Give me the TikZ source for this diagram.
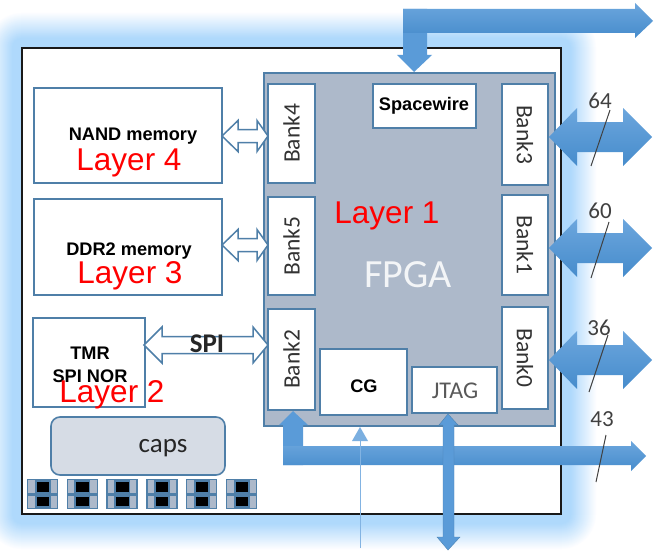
\documentclass[tikz,border=0pt]{standalone}
\usepackage{fontspec}
\setmainfont{Liberation Sans}
\newfontfamily\carl{Carlito}
\usetikzlibrary{calc}
\definecolor{edgeb}{HTML}{4F7FA8}
\definecolor{fpgag}{HTML}{ADB9CA}
\definecolor{glowb}{HTML}{AFD9FC}
\definecolor{capsg}{HTML}{D6DCE5}
\definecolor{arrtop}{HTML}{6CA6DD}
\definecolor{arrbot}{HTML}{468CCC}
\definecolor{stemb}{HTML}{5A9BD8}
\tikzset{
  every node/.style={outer sep=0pt},
  box/.style={draw=edgeb,line width=1.6pt,fill=white,inner sep=0pt,text=black},
  boldtxt/.style={font=\bfseries\fontsize{18.2}{20}\selectfont,text=black,inner sep=0pt},
  layertxt/.style={font=\fontsize{31.5}{34}\selectfont,text=red,inner sep=0pt},
  banktxt/.style={font=\carl\fontsize{23.5}{26}\selectfont,text=black!80,inner sep=0pt},
  numtxt/.style={font=\carl\fontsize{23}{25}\selectfont,text=black!75,inner sep=0pt},
  hollow/.style={draw=edgeb,line width=1.5pt,fill=white,line join=miter},
  solid/.style={top color=arrtop,bottom color=arrbot,draw=none},
  slash/.style={draw=black!75,line width=1pt},
}
\newcommand{\rbox}[5]{\node[box,anchor=north west,minimum width=#3-#1,minimum height=#4-#2] (#5) at (#1,#2) {};}
% horizontal double block arrow: x1 x1head x2head x2 ymid halfshaft halfhead
\newcommand{\hdbl}[8]{\path[#8] (#1,#5) -- (#2,#5-#7) -- (#2,#5-#6) -- (#3,#5-#6) -- (#3,#5-#7) -- (#4,#5) -- (#3,#5+#7) -- (#3,#5+#6) -- (#2,#5+#6) -- (#2,#5+#7) -- cycle;}
\begin{document}
\begin{tikzpicture}[x=1pt,y=-1pt]
\useasboundingbox (0,0) rectangle (656,551);
\fill[white] (0,0) rectangle (656,551);
% glow
\foreach \i in {0,...,26}{
  \pgfmathsetmacro{\off}{36-\i}
  \pgfmathsetmacro{\mix}{100*(\i/26)}
  \fill[glowb!\mix!white,rounded corners=\off pt] (22-\off,48-\off) rectangle (561+\off,514+\off);
}
% board
\node[draw=black!90,line width=2.2pt,fill=white,anchor=north west,minimum width=539pt,minimum height=466pt,inner sep=0pt] (board) at (22,48) {};
% FPGA
\node[draw=edgeb,line width=1.6pt,fill=fpgag,anchor=north west,minimum width=291pt,minimum height=353pt,inner sep=0pt] (fpga) at (264,73) {};
% memory
\rbox{34}{88}{222}{183}{nand}
\rbox{34}{199}{222}{295}{ddr}
\rbox{33}{318}{145}{407}{tmr}
\node[boldtxt] (nandt) at (133,136) {NAND memory};
\node[layertxt] (l4) at (129,163) {Layer 4};
\node[boldtxt] (ddrt) at (129,251) {DDR2 memory};
\node[layertxt] (l3) at (130,276) {Layer 3};
\node[boldtxt] (tmrt) at (90,353) {TMR};
\node[boldtxt] (spinor) at (90,376) {SPI NOR};
\node[layertxt] (l2) at (112,395) {Layer 2};
% caps
\node[draw=edgeb,line width=1.6pt,fill=capsg,rounded corners=9pt,anchor=north west,minimum width=174pt,minimum height=58pt,inner sep=0pt] (caps) at (51,417) {};
\node[font=\carl\fontsize{27}{29}\selectfont,text=black!85,inner sep=0pt] (capst) at (163,448) {caps};
% chips
\foreach \k in {0,...,5}{
  \pgfmathsetmacro{\cx}{27+39.8*\k}
  \begin{scope}[shift={(\cx,479)}]
    \node[draw=edgeb,line width=1.4pt,fill=fpgag,anchor=north west,minimum width=30pt,minimum height=29pt,inner sep=0pt] (chip\k) at (0.5,0.5) {};
    \fill[edgeb] (7.5,0.5) rectangle (23.5,29.5);
    \fill[edgeb] (0.5,13.5) rectangle (30.5,16.5);
    \fill[black] (9.5,3) rectangle (22,13);
    \fill[black] (9.5,17.5) rectangle (22,27);
  \end{scope}
}
% banks
\rbox{268}{84}{315}{183}{bankf}
\rbox{268}{197}{315}{295}{bankg}
\rbox{268}{309}{315}{410}{bankc}
\rbox{502}{84}{548}{185}{bankd}
\rbox{502}{195}{548}{295}{bankb}
\rbox{502}{307}{548}{409}{banka}
\rbox{373}{84}{476}{128}{spw}
\rbox{320}{349}{407}{415}{cg}
\rbox{412}{367}{497}{413}{jtag}
\node[banktxt,rotate=90] at (bankf) {Bank4};
\node[banktxt,rotate=90] at (bankg) {Bank5};
\node[banktxt,rotate=90] at (bankc) {Bank2};
\node[banktxt,rotate=-90] at (bankd) {Bank3};
\node[banktxt,rotate=-90] at (bankb) {Bank1};
\node[banktxt,rotate=-90] at (banka) {Bank0};
\node[boldtxt] at (424,106) {Spacewire};
\node[boldtxt] at (364,386) {CG};
\node[font=\carl\fontsize{24}{26}\selectfont,text=black!65,inner sep=0pt] at (455,391) {JTAG};
\node[layertxt] (l1) at (387,216) {Layer 1};
\node[font=\carl\fontsize{40}{42}\selectfont,text=white!85!fpgag,inner sep=0pt] (fpgat) at (408,275) {FPGA};
% hollow arrows
\hdbl{222}{238}{257}{268}{136}{6.5}{15.5}{hollow}
\hdbl{222}{238}{257}{268}{245}{6.5}{15.5}{hollow}
\hdbl{144}{162}{253}{268}{345}{8.5}{18}{hollow}
\node[font=\carl\bfseries\fontsize{27}{29}\selectfont,text=black!85,inner sep=0pt] (spi) at (207,344) {SPI};
% solid double arrows
\hdbl{549}{577}{623}{652}{137}{15}{29}{solid}
\hdbl{549}{577}{623}{652}{248}{15}{29}{solid}
\hdbl{549}{577}{623}{652}{360}{15}{29}{solid}
% top arrow
\fill[stemb] (403,9) -- (427,9) -- (427,55) -- (432,55) -- (414,72) -- (397,55) -- (403,55) -- cycle;
\path[solid] (403,9) -- (635,9) -- (635,3) -- (653,21) -- (635,38) -- (635,33) -- (403,33) -- cycle;
% bottom bus
\fill[stemb] (293,411) -- (308,425) -- (303,425) -- (303,465) -- (283,465) -- (283,425) -- (279,425) -- cycle;
\path[solid] (283,446) -- (631,446) -- (631,441) -- (646,456) -- (631,471) -- (631,465) -- (283,465) -- cycle;
% JTAG arrow
\path[fill=stemb,draw=edgeb!70!arrbot,line width=.4pt] (448,414) -- (458,425) -- (454,425) -- (454,537) -- (460,537) -- (448,550) -- (437,537) -- (443,537) -- (443,425) -- (439,425) -- cycle;
% CG arrow
\draw[draw=arrtop!85!white,line width=1pt] (360,548) -- (360,440);
\fill[arrtop!90!white] (360,427) -- (368,441) -- (352,441) -- cycle;
% slashes
\draw[slash] (591,166) -- (610,110);
\draw[slash] (591,278) -- (609,222);
\draw[slash] (589,392) -- (608,335);
\draw[slash] (596,482) -- (606,435);
\node[numtxt] at (600,101) {64};
\node[numtxt] at (600,211) {60};
\node[numtxt] at (599,328) {36};
\node[numtxt] at (602,419) {43};
\end{tikzpicture}
\end{document}
